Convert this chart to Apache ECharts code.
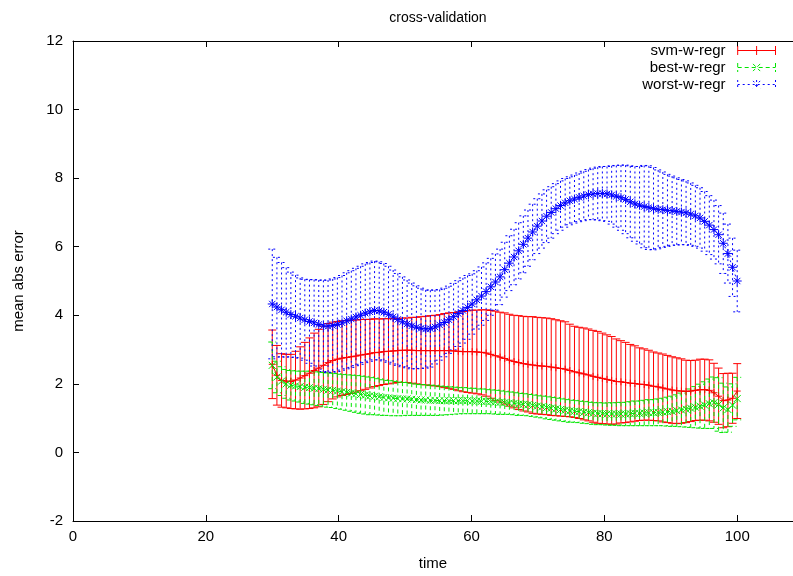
<!DOCTYPE html>
<html>
<head>
<meta charset="utf-8">
<script src="https://cdn.jsdelivr.net/npm/echarts@6/dist/echarts.min.js"></script>
<style>
  html, body { margin: 0; padding: 0; background: #fff; }
  #chart { width: 793px; height: 576px; }
</style>
</head>
<body>
<div id="chart"></div>
<script>
// time samples (x)
const times = [30, 30.7, 31.4, 32.1, 32.8, 33.5, 34.2, 34.9, 35.6, 36.3,
  37, 37.7, 38.4, 39.1, 39.8, 40.5, 41.2, 41.9, 42.6, 43.3,
  44, 44.7, 45.4, 46.1, 46.8, 47.5, 48.2, 48.9, 49.6, 50.3,
  51, 51.7, 52.4, 53.1, 53.8, 54.5, 55.2, 55.9, 56.6, 57.3,
  58, 58.7, 59.4, 60.1, 60.8, 61.5, 62.2, 62.9, 63.6, 64.3,
  65, 65.7, 66.4, 67.1, 67.8, 68.5, 69.2, 69.9, 70.6, 71.3,
  72, 72.7, 73.4, 74.1, 74.8, 75.5, 76.2, 76.9, 77.6, 78.3,
  79, 79.7, 80.4, 81.1, 81.8, 82.5, 83.2, 83.9, 84.6, 85.3,
  86, 86.7, 87.4, 88.1, 88.8, 89.5, 90.2, 90.9, 91.6, 92.3,
  93, 93.7, 94.4, 95.1, 95.8, 96.5, 97.2, 97.9, 98.6, 99.3, 100];

// svm-w-regr: mean and error (+/-)
const svmMean = [2.57, 2.25, 2.1, 2.08, 2.07, 2.11, 2.17, 2.24, 2.31, 2.39,
  2.46, 2.54, 2.62, 2.68, 2.72, 2.75, 2.77, 2.79, 2.81, 2.84,
  2.86, 2.88, 2.91, 2.92, 2.94, 2.95, 2.96, 2.97, 2.98, 2.98,
  2.98, 2.97, 2.97, 2.97, 2.97, 2.97, 2.97, 2.97, 2.97, 2.96,
  2.95, 2.94, 2.94, 2.94, 2.93, 2.92, 2.9, 2.86, 2.82, 2.78,
  2.74, 2.69, 2.65, 2.62, 2.59, 2.57, 2.55, 2.53, 2.52, 2.51,
  2.49, 2.47, 2.45, 2.43, 2.39, 2.35, 2.32, 2.29, 2.26, 2.22,
  2.19, 2.16, 2.13, 2.1, 2.07, 2.06, 2.04, 2.02, 2.01, 1.99,
  1.98, 1.96, 1.93, 1.91, 1.88, 1.85, 1.82, 1.8, 1.79, 1.78,
  1.79, 1.81, 1.83, 1.83, 1.81, 1.74, 1.64, 1.51, 1.53, 1.58, 1.79];
const svmErr = [1.0, 0.87, 0.78, 0.78, 0.79, 0.84, 0.91, 0.97, 1.03, 1.09,
  1.13, 1.14, 1.14, 1.12, 1.1, 1.09, 1.08, 1.07, 1.05, 1.04,
  1.02, 1.0, 0.99, 0.97, 0.96, 0.95, 0.94, 0.93, 0.94, 0.94,
  0.96, 0.97, 0.99, 1.0, 1.02, 1.03, 1.05, 1.08, 1.1, 1.12,
  1.15, 1.17, 1.19, 1.21, 1.22, 1.24, 1.26, 1.28, 1.3, 1.31,
  1.33, 1.34, 1.35, 1.37, 1.38, 1.39, 1.41, 1.41, 1.41, 1.41,
  1.41, 1.4, 1.39, 1.38, 1.35, 1.33, 1.33, 1.34, 1.34, 1.34,
  1.34, 1.32, 1.3, 1.28, 1.24, 1.2, 1.17, 1.13, 1.1, 1.06,
  1.04, 1.02, 1.0, 0.99, 0.99, 0.98, 0.97, 0.96, 0.94, 0.91,
  0.89, 0.88, 0.89, 0.89, 0.89, 0.86, 0.82, 0.79, 0.78, 0.73, 0.8];

// best-w-regr
const bestMean = [2.54, 2.2, 2.08, 2.0, 1.96, 1.94, 1.92, 1.9, 1.89, 1.87,
  1.86, 1.84, 1.82, 1.81, 1.79, 1.77, 1.75, 1.73, 1.71, 1.69,
  1.67, 1.65, 1.64, 1.62, 1.6, 1.59, 1.58, 1.57, 1.56, 1.56,
  1.55, 1.54, 1.53, 1.53, 1.52, 1.52, 1.51, 1.51, 1.51, 1.51,
  1.51, 1.51, 1.51, 1.5, 1.5, 1.49, 1.49, 1.48, 1.47, 1.46,
  1.45, 1.44, 1.43, 1.41, 1.4, 1.39, 1.37, 1.35, 1.33, 1.31,
  1.29, 1.27, 1.25, 1.23, 1.21, 1.2, 1.19, 1.17, 1.16, 1.14,
  1.13, 1.13, 1.12, 1.12, 1.12, 1.12, 1.12, 1.13, 1.14, 1.14,
  1.15, 1.16, 1.16, 1.17, 1.18, 1.19, 1.2, 1.22, 1.24, 1.26,
  1.29, 1.32, 1.35, 1.38, 1.42, 1.45, 1.4, 1.3, 1.25, 1.38, 1.57];
const bestErr = [0.68, 0.46, 0.42, 0.42, 0.43, 0.44, 0.45, 0.47, 0.48, 0.48,
  0.49, 0.49, 0.5, 0.5, 0.51, 0.51, 0.52, 0.53, 0.54, 0.55,
  0.55, 0.55, 0.54, 0.53, 0.52, 0.51, 0.51, 0.5, 0.49, 0.48,
  0.47, 0.46, 0.45, 0.45, 0.44, 0.44, 0.43, 0.42, 0.41, 0.4,
  0.39, 0.38, 0.38, 0.37, 0.37, 0.36, 0.36, 0.35, 0.35, 0.35,
  0.34, 0.33, 0.33, 0.33, 0.32, 0.32, 0.32, 0.32, 0.32, 0.33,
  0.33, 0.33, 0.33, 0.33, 0.33, 0.32, 0.32, 0.32, 0.32, 0.32,
  0.32, 0.32, 0.32, 0.33, 0.33, 0.34, 0.34, 0.35, 0.36, 0.36,
  0.37, 0.38, 0.38, 0.39, 0.4, 0.42, 0.44, 0.46, 0.49, 0.52,
  0.56, 0.6, 0.64, 0.68, 0.72, 0.75, 0.78, 0.72, 0.66, 0.62, 0.62];

// worst-w-regr
const worstMean = [4.33, 4.24, 4.16, 4.09, 4.02, 3.97, 3.92, 3.87, 3.82, 3.78,
  3.73, 3.69, 3.68, 3.7, 3.73, 3.78, 3.84, 3.89, 3.95, 4.0,
  4.06, 4.1, 4.14, 4.13, 4.09, 4.03, 3.95, 3.88, 3.81, 3.75,
  3.69, 3.65, 3.62, 3.6, 3.61, 3.66, 3.72, 3.79, 3.87, 3.96,
  4.05, 4.14, 4.23, 4.33, 4.45, 4.56, 4.69, 4.83, 4.97, 5.12,
  5.33, 5.52, 5.7, 5.88, 6.07, 6.25, 6.43, 6.6, 6.75, 6.89,
  7.0, 7.11, 7.2, 7.28, 7.34, 7.39, 7.44, 7.48, 7.52, 7.54,
  7.55, 7.55, 7.54, 7.51, 7.47, 7.43, 7.38, 7.31, 7.25, 7.21,
  7.17, 7.14, 7.11, 7.09, 7.08, 7.06, 7.05, 7.03, 7.01, 6.99,
  6.95, 6.9, 6.84, 6.74, 6.63, 6.5, 6.35, 6.1, 5.8, 5.4, 5.0];
const worstErr = [1.6, 1.45, 1.38, 1.3, 1.24, 1.2, 1.17, 1.18, 1.22, 1.26,
  1.3, 1.33, 1.35, 1.36, 1.37, 1.38, 1.4, 1.41, 1.42, 1.43,
  1.44, 1.44, 1.44, 1.43, 1.42, 1.4, 1.37, 1.34, 1.31, 1.28,
  1.25, 1.21, 1.17, 1.14, 1.12, 1.08, 1.03, 1.0, 0.98, 0.97,
  0.96, 0.95, 0.93, 0.88, 0.85, 0.85, 0.84, 0.83, 0.82, 0.81,
  0.8, 0.8, 0.81, 0.82, 0.83, 0.82, 0.81, 0.8, 0.79, 0.77,
  0.75, 0.73, 0.72, 0.71, 0.7, 0.7, 0.71, 0.72, 0.73, 0.75,
  0.77, 0.79, 0.8, 0.85, 0.9, 0.95, 1.0, 1.05, 1.09, 1.13,
  1.2, 1.22, 1.2, 1.15, 1.1, 1.05, 1.01, 0.98, 0.95, 0.93,
  0.91, 0.89, 0.88, 0.87, 0.86, 0.86, 0.85, 0.88, 0.86, 0.85, 0.9];

const seriesNames = ['svm-w-regr', 'best-w-regr', 'worst-w-regr'];
const yTicks = [-2, 0, 2, 4, 6, 8, 10, 12];

const RED = '#ff0000';
const GREEN = '#00e600';
const BLUE = '#0000ff';
const FONT = 'Liberation Sans, Arial, sans-serif';
const FS = 15;

function errorBars(color, dash) {
  return function (params, api) {
    const x = api.value(0);
    const m = api.value(1);
    const e = api.value(2);
    const hi = api.coord([x, m + e]);
    const lo = api.coord([x, m - e]);
    const w = 4;
    const style = { stroke: color, lineWidth: 1, lineDash: dash, fill: null };
    return {
      type: 'group',
      children: [
        { type: 'line', shape: { x1: hi[0], y1: hi[1], x2: lo[0], y2: lo[1] }, style: style },
        { type: 'line', shape: { x1: hi[0] - w, y1: hi[1], x2: hi[0] + w, y2: hi[1] }, style: style },
        { type: 'line', shape: { x1: lo[0] - w, y1: lo[1], x2: lo[0] + w, y2: lo[1] }, style: style }
      ]
    };
  };
}

function barSeries(name, mean, err, color, dash) {
  return {
    name: name,
    type: 'custom',
    renderItem: errorBars(color, dash),
    encode: { x: 0, y: 1 },
    data: times.map((t, i) => [t, mean[i], err[i]]),
    silent: true,
    animation: false
  };
}

function lineSeries(name, mean, color, dash, symbol, size) {
  return {
    name: name,
    type: 'line',
    data: times.map((t, i) => [t, mean[i]]),
    symbol: symbol,
    symbolSize: size,
    showAllSymbol: true,
    lineStyle: { color: color, width: 1, type: dash },
    itemStyle: { color: 'rgba(0,0,0,0)', borderColor: color, borderWidth: 1 },
    emphasis: { disabled: true },
    silent: true,
    animation: false
  };
}

const chart = echarts.init(document.getElementById('chart'));

const xLabelFmt = v => (v % 20 === 0 && v <= 100 ? String(v) : '');

chart.setOption({
  backgroundColor: '#fff',
  animation: false,
  title: {
    text: 'cross-validation',
    left: 433,
    top: 6,
    textAlign: 'center',
    textStyle: { fontFamily: FONT, fontSize: 14, fontWeight: 'normal', color: '#000' }
  },
  legend: {
    orient: 'vertical',
    right: 12,
    top: 38,
    align: 'right',
    itemWidth: 42,
    itemHeight: 9,
    itemGap: 2,
    selectedMode: false,
    textStyle: { fontFamily: FONT, fontSize: FS, color: '#000', lineHeight: 15, padding: [0, 5, 0, 0] },
    data: [
      {
        name: seriesNames[0],
        icon: 'path://M0,0L0,10M0,5L42,5M21,0L21,10M42,0L42,10',
        itemStyle: { color: 'rgba(0,0,0,0)', borderColor: RED, borderWidth: 1 }
      },
      {
        name: seriesNames[1],
        icon: 'path://M0,0L0,10M0,5L42,5M17,1L25,9M25,1L17,9M42,0L42,10',
        itemStyle: { color: 'rgba(0,0,0,0)', borderColor: GREEN, borderWidth: 1, borderType: [4, 3] }
      },
      {
        name: seriesNames[2],
        icon: 'path://M0,0L0,10M0,5L42,5M21,0L21,10M17,1L25,9M25,1L17,9M42,0L42,10',
        itemStyle: { color: 'rgba(0,0,0,0)', borderColor: BLUE, borderWidth: 1, borderType: [2, 3] }
      }
    ]
  },
  grid: { left: 73, right: 0, top: 41, bottom: 54, containLabel: false },
  xAxis: [
    {
      type: 'value',
      min: 0,
      max: 108.4,
      interval: 20,
      name: 'time',
      nameLocation: 'middle',
      nameGap: 35,
      nameTextStyle: { fontFamily: FONT, fontSize: FS, color: '#000' },
      axisLine: { show: true, onZero: false, lineStyle: { color: '#000', width: 1 } },
      axisTick: { show: true, inside: true, length: 6, lineStyle: { color: '#000' } },
      axisLabel: { margin: 8, fontFamily: FONT, fontSize: FS, color: '#000', formatter: xLabelFmt, showMaxLabel: false },
      splitLine: { show: false }
    },
    {
      type: 'value',
      position: 'top',
      min: 0,
      max: 108.4,
      interval: 20,
      axisLine: { show: true, onZero: false, lineStyle: { color: '#000', width: 1 } },
      axisTick: { show: true, inside: true, length: 6, lineStyle: { color: '#000' } },
      axisLabel: { show: false },
      splitLine: { show: false }
    }
  ],
  yAxis: {
    type: 'value',
    min: yTicks[0],
    max: yTicks[yTicks.length - 1],
    interval: 2,
    name: 'mean abs error',
    nameLocation: 'middle',
    nameGap: 47,
    nameTextStyle: { fontFamily: FONT, fontSize: FS, color: '#000' },
    axisLine: { show: true, onZero: false, lineStyle: { color: '#000', width: 1 } },
    axisTick: { show: true, inside: true, length: 6, lineStyle: { color: '#000' } },
    axisLabel: { margin: 10, fontFamily: FONT, fontSize: FS, color: '#000' },
    splitLine: { show: false }
  },
  series: [
    barSeries(seriesNames[0], svmMean, svmErr, RED, null),
    lineSeries(seriesNames[0], svmMean, RED, 'solid', 'path://M5,0L5,10M0,5L10,5', 7),
    barSeries(seriesNames[1], bestMean, bestErr, GREEN, [4, 3]),
    lineSeries(seriesNames[1], bestMean, GREEN, [4, 3], 'path://M0,0L10,10M10,0L0,10', 7),
    barSeries(seriesNames[2], worstMean, worstErr, BLUE, [2, 3]),
    lineSeries(seriesNames[2], worstMean, BLUE, [2, 3], 'path://M5,0L5,10M0,5L10,5M1.5,1.5L8.5,8.5M8.5,1.5L1.5,8.5', 9)
  ]
});
</script>
</body>
</html>
